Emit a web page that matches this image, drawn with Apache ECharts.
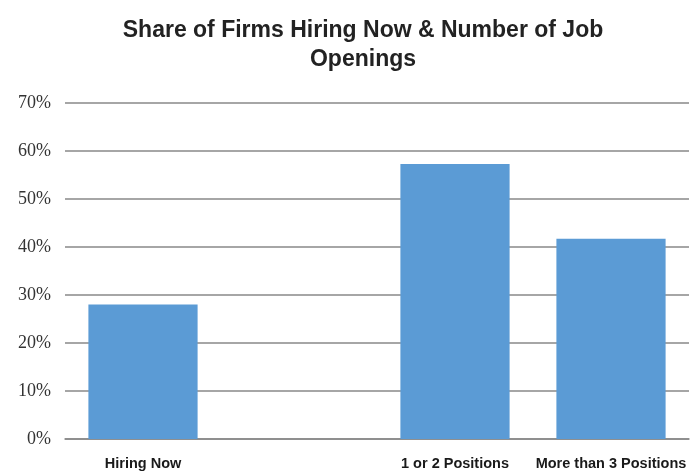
<!DOCTYPE html>
<html><head><meta charset="utf-8">
<script src="https://cdn.jsdelivr.net/npm/echarts@6/dist/echarts.min.js"></script>
<style>html,body{margin:0;padding:0;background:#fff}#c{width:694px;height:472px}</style>
</head><body><div id="c"></div>
<script>
const categories = ["Hiring Now", "", "1 or 2 Positions", "More than 3 Positions"];
const shares = [28, null, 57.3, 41.7];
const yTicks = [0, 10, 20, 30, 40, 50, 60, 70];

const chart = echarts.init(document.getElementById('c'));
chart.setOption({
  animation: false,
  title: {
    text: "Share of Firms Hiring Now & Number of Job\nOpenings",
    left: 358, top: 11, textAlign: 'center',
    textStyle: { fontFamily: 'Liberation Sans, Arial, sans-serif', fontWeight: 'bold', fontSize: 23, color: '#222', lineHeight: 29 }
  },
  grid: { left: 65, right: 5, top: 103, bottom: 33, containLabel: false },
  xAxis: {
    type: 'category', data: categories,
    axisLine: { lineStyle: { color: '#888', width: 1.5 } },
    axisTick: { show: false },
    axisLabel: { interval: 0, margin: 17, fontFamily: 'Liberation Sans, Arial, sans-serif', fontWeight: 'bold', fontSize: 14.5, color: '#1a1a1a' }
  },
  yAxis: {
    type: 'value', min: yTicks[0], max: yTicks[yTicks.length - 1], interval: 10,
    axisLine: { show: false }, axisTick: { show: false },
    axisLabel: { margin: 14, formatter: v => v + '%', fontFamily: 'Liberation Serif, Times New Roman, serif', fontSize: 18, color: '#333' },
    splitLine: { lineStyle: { color: '#888', width: 1.5 } }
  },
  series: [{
    type: 'bar', data: shares, barCategoryGap: '30%',
    itemStyle: { color: '#5B9BD5' }
  }]
});
</script></body></html>
